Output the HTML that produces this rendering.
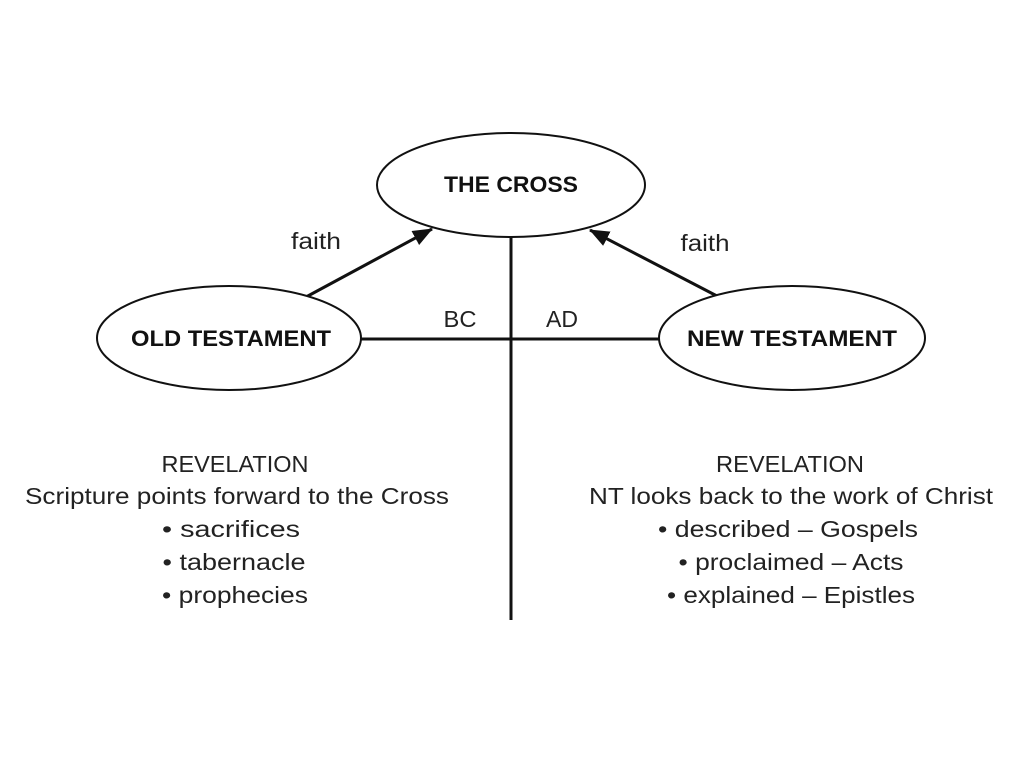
<!DOCTYPE html>
<html><head><meta charset="utf-8"><style>
html,body{margin:0;padding:0;background:#fff;}
svg{display:block;}
text{font-family:"Liberation Sans",sans-serif;fill:#111;}
.b{font-weight:bold;font-size:22px;}
.t{font-size:23px;fill:#222;}
</style></head><body>
<svg width="1024" height="768" viewBox="0 0 1024 768">
<defs>
<marker id="h" viewBox="0 0 20 16" refX="19" refY="8" markerWidth="20" markerHeight="16" orient="auto" markerUnits="userSpaceOnUse"><path d="M0,0 L20,8 L0,16 z" fill="#111"/></marker></defs>
<g stroke="#111" stroke-width="3" fill="none">
<line x1="511" y1="237" x2="511" y2="620"/>
<line x1="361" y1="339" x2="659" y2="339"/>
<line x1="306" y1="297" x2="432" y2="229" marker-end="url(#h)"/>
<line x1="717" y1="296" x2="590" y2="230" marker-end="url(#h)"/>
</g>
<g stroke="#111" stroke-width="2" fill="#fff">
<ellipse cx="511" cy="185" rx="134" ry="52"/>
<ellipse cx="229" cy="338" rx="132" ry="52"/>
<ellipse cx="792" cy="338" rx="133" ry="52"/>
</g>
<g text-anchor="middle" lengthAdjust="spacingAndGlyphs">
<text class="b" x="511" y="192" textLength="134" lengthAdjust="spacingAndGlyphs">THE CROSS</text>
<text class="b" x="231" y="346" textLength="200" lengthAdjust="spacingAndGlyphs">OLD TESTAMENT</text>
<text class="b" x="792" y="346" textLength="210" lengthAdjust="spacingAndGlyphs">NEW TESTAMENT</text>
<text class="t" x="316" y="249" textLength="50" lengthAdjust="spacingAndGlyphs">faith</text>
<text class="t" x="705" y="251" textLength="49" lengthAdjust="spacingAndGlyphs">faith</text>
<text class="t" x="460" y="327" textLength="33" lengthAdjust="spacingAndGlyphs">BC</text>
<text class="t" x="562" y="327" textLength="32" lengthAdjust="spacingAndGlyphs">AD</text>
<text class="t" x="235" y="472" textLength="147" lengthAdjust="spacingAndGlyphs">REVELATION</text>
<text class="t" x="237" y="504" textLength="424" lengthAdjust="spacingAndGlyphs">Scripture points forward to the Cross</text>
<text class="t" x="231" y="537" textLength="138" lengthAdjust="spacingAndGlyphs">• sacrifices</text>
<text class="t" x="234" y="570" textLength="143" lengthAdjust="spacingAndGlyphs">• tabernacle</text>
<text class="t" x="235" y="603" textLength="146" lengthAdjust="spacingAndGlyphs">• prophecies</text>
<text class="t" x="790" y="472" textLength="148" lengthAdjust="spacingAndGlyphs">REVELATION</text>
<text class="t" x="791" y="504" textLength="404" lengthAdjust="spacingAndGlyphs">NT looks back to the work of Christ</text>
<text class="t" x="788" y="537" textLength="260" lengthAdjust="spacingAndGlyphs">• described – Gospels</text>
<text class="t" x="791" y="570" textLength="225" lengthAdjust="spacingAndGlyphs">• proclaimed – Acts</text>
<text class="t" x="791" y="603" textLength="248" lengthAdjust="spacingAndGlyphs">• explained – Epistles</text>
</g>
</svg>
</body></html>
